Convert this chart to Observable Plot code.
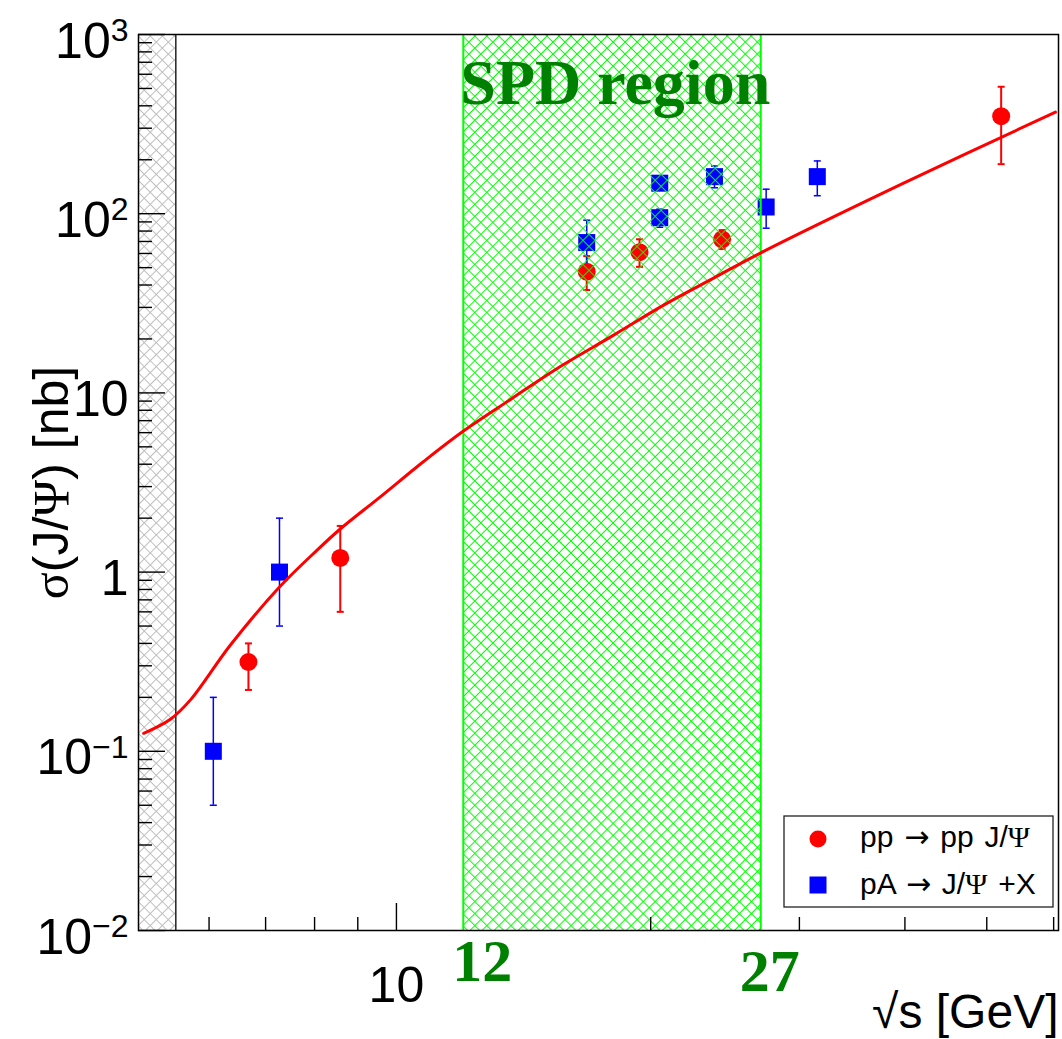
<!DOCTYPE html>
<html>
<head>
<meta charset="utf-8">
<script src="https://cdn.jsdelivr.net/npm/d3@7"></script>
<script src="https://cdn.jsdelivr.net/npm/@observablehq/plot@0.6"></script>
<style>
  body { margin: 0; background: #fff; }
  #chart { width: 1062px; height: 1039px; }
</style>
</head>
<body>
<div id="chart"></div>
<script>
// Exclusive J/psi production: pp -> pp J/psi (sqrt(s) in GeV, sigma in nb)
const ppEnergy = [6.68, 8.58, 16.8, 19.4, 24.3, 52.0];
const ppSigma  = [0.315, 1.2, 47.5, 61, 72, 350];
const ppLow    = [0.22, 0.60, 37.5, 50.5, 63.5, 189];
const ppHigh   = [0.40, 1.81, 58, 72, 81, 511];

// Inclusive J/psi production in pA collisions (per nucleon)
const pAEnergy = [6.07, 7.27, 16.8, 20.5, 20.5, 23.8, 27.4, 31.5];
const pASigma  = [0.1, 1.0, 69, 148, 95, 161, 109, 161];
const pALow    = [0.05, 0.5, 46, 137, 84, 139.5, 83, 126];
const pAHigh   = [0.2, 2.0, 92, 160, 106, 184.5, 137, 197];

// Model prediction
const curveEnergy = [5.02, 5.40, 5.70, 6.36, 7.27, 8.06, 8.58, 9.57, 10.76, 11.96, 13.65, 15.5, 18.08, 20.72, 23.74, 26.97, 39.8, 60.3];
const curveSigma  = [0.126, 0.151, 0.193, 0.392, 0.825, 1.33, 1.74, 2.63, 4.13, 6.05, 9.2, 13.7, 21.0, 30.9, 43.7, 60.3, 147.6, 369];

// Axis ranges and ticks
const xDomain = [4.95, 60.8];
const yDomain = [0.01, 1000];
const xMajorTicks = [10];
const xMinorTicks = [6, 7, 8, 9, 20, 30, 40, 50, 60];
const xTickLabels = ["10"];
const yMajorTicks = [0.01, 0.1, 1, 10, 100, 1000];
const yTickLabels = ["10^\u22122", "10^\u22121", "1", "10", "10^2", "10^3"];
const yMinorTicks = [0.01, 0.1, 1, 10, 100].flatMap(d => [2, 3, 4, 5, 6, 7, 8, 9].map(k => k * d));

// Shaded regions
const belowThreshold = [4.95, 5.48];
const spdRegion = [12, 27];
const spdTitle = "SPD region";
const spdEdgeLabels = ["12", "27"];

const xTitle = "\u221As [GeV]";
const yTitle = "\u03C3(J/\u03A8) [nb]";
const legendLabels = ["pp \u2192 pp J/\u03A8", "pA \u2192 J/\u03A8 +X"];

const W = 1062, H = 1039;
const mTop = 34, mRight = 4, mBottom = 109, mLeft = 138;
const frameW = W - mLeft - mRight;
const frameH = H - mTop - mBottom;

const pp = ppEnergy.map((e, i) => ({e, s: ppSigma[i], lo: ppLow[i], hi: ppHigh[i]}));
const pA = pAEnergy.map((e, i) => ({e, s: pASigma[i], lo: pALow[i], hi: pAHigh[i]}));
const curve = curveEnergy.map((e, i) => ({e, s: curveSigma[i]}));
const caps = rows => rows.flatMap(d => [{e: d.e, v: d.lo}, {e: d.e, v: d.hi}]);

// short horizontal bar used as error-bar cap
const capSymbol = {
  draw(ctx, size) {
    const r = Math.sqrt(size / Math.PI);
    ctx.moveTo(-r, 0);
    ctx.lineTo(r, 0);
  }
};

const sans = "'Liberation Sans', Arial, Helvetica, sans-serif";
const serif = "'Liberation Serif', 'Times New Roman', serif";

const svg = Plot.plot({
  width: W,
  height: H,
  marginTop: mTop, marginRight: mRight, marginBottom: mBottom, marginLeft: mLeft,
  style: {background: "white", fontFamily: sans, overflow: "visible"},
  x: {type: "log", domain: xDomain, axis: null},
  y: {type: "log", domain: yDomain, axis: null},
  marks: [
    // kinematically forbidden region
    Plot.rect([belowThreshold], {x1: d => d[0], x2: d => d[1], y1: yDomain[0], y2: yDomain[1], fill: "url(#hatch-gray)"}),
    Plot.ruleX([belowThreshold[1]], {stroke: "#222", strokeWidth: 1.5}),

    // error bars
    Plot.ruleX(pp, {x: "e", y1: "lo", y2: "hi", stroke: "#ff0000", strokeWidth: 2}),
    Plot.dot(caps(pp), {x: "e", y: "v", symbol: capSymbol, r: 3.5, stroke: "#ff0000", strokeWidth: 2, fill: "none"}),
    Plot.ruleX(pA, {x: "e", y1: "lo", y2: "hi", stroke: "#0000ff", strokeWidth: 1.5}),
    Plot.dot(caps(pA), {x: "e", y: "v", symbol: capSymbol, r: 3.5, stroke: "#0000ff", strokeWidth: 1.5, fill: "none"}),

    // markers
    Plot.dot(pp, {x: "e", y: "s", r: 9, fill: "#ff0000", stroke: "none"}),
    Plot.dot(pA, {x: "e", y: "s", symbol: "square", r: 9.6, fill: "#0000ff", stroke: "none"}),

    // SPD energy range
    Plot.rect([spdRegion], {x1: d => d[0], x2: d => d[1], y1: yDomain[0], y2: yDomain[1], fill: "url(#hatch-green)"}),
    Plot.ruleX(spdRegion, {stroke: "#00ff00", strokeWidth: 2}),

    // model curve
    Plot.line(curve, {x: "e", y: "s", stroke: "#ff0000", strokeWidth: 3, curve: "catmull-rom"}),

    // inward ticks
    Plot.ruleY(yMajorTicks, {insetRight: frameW - 27, stroke: "#000", strokeWidth: 1.4}),
    Plot.ruleY(yMinorTicks, {insetRight: frameW - 14, stroke: "#000", strokeWidth: 1.4}),
    Plot.ruleX(xMajorTicks, {insetTop: frameH - 27, stroke: "#000", strokeWidth: 1.4}),
    Plot.ruleX(xMinorTicks, {insetTop: frameH - 13, stroke: "#000", strokeWidth: 1.4}),
    Plot.frame({stroke: "#000", strokeWidth: 1.5}),

    // tick labels
    Plot.text(yMajorTicks, {y: d => d, text: (d, i) => yTickLabels[i], frameAnchor: "left", textAnchor: "end",
      lineAnchor: "middle", dx: -10, dy: 7, fontSize: 50, fill: "#000"}),
    Plot.text(xMajorTicks, {x: d => d, text: (d, i) => xTickLabels[i], frameAnchor: "bottom", textAnchor: "middle",
      lineAnchor: "bottom", dy: 71, fontSize: 50, fill: "#000"}),

    // axis titles
    Plot.text([xTitle], {text: d => d, frameAnchor: "bottom-right", textAnchor: "end", lineAnchor: "bottom",
      dy: 97, dx: 0, fontSize: 48, fill: "#000"}),
    Plot.text([yTitle], {text: d => d, frameAnchor: "left", textAnchor: "middle", lineAnchor: "bottom",
      rotate: -90, dx: -71, fontSize: 50, fill: "#000"}),

    // SPD annotations
    Plot.text([spdTitle], {x: spdRegion[0], text: d => d, frameAnchor: "top", textAnchor: "start", lineAnchor: "bottom",
      dx: -3, dy: 69, fontSize: 64, fontWeight: "bold", fontFamily: serif, fill: "#008000"}),
    Plot.text([spdEdgeLabels[0]], {x: spdRegion[0], text: d => d, frameAnchor: "bottom", textAnchor: "start", lineAnchor: "bottom",
      dx: -11, dy: 50, fontSize: 60, fontWeight: "bold", fontFamily: serif, fill: "#008000"}),
    Plot.text([spdEdgeLabels[1]], {x: spdRegion[1], text: d => d, frameAnchor: "bottom", textAnchor: "start", lineAnchor: "bottom",
      dx: -21, dy: 60, fontSize: 60, fontWeight: "bold", fontFamily: serif, fill: "#008000"})
  ]
});

const root = d3.select(svg);

// cross-hatch fill patterns: a square grid turned by 45 degrees
const defs = root.insert("defs", ":first-child");
function hatch(id, color, size, width) {
  const p = defs.append("pattern")
    .attr("id", id)
    .attr("patternUnits", "userSpaceOnUse")
    .attr("width", size)
    .attr("height", size)
    .attr("patternTransform", "rotate(45)");
  p.append("path")
    .attr("d", `M0,${size / 2}H${size}M${size / 2},0V${size}`)
    .attr("stroke", color)
    .attr("stroke-width", width)
    .attr("fill", "none");
}
hatch("hatch-gray", "#bdbdbd", 8.5, 1);
hatch("hatch-green", "#00ff00", 8.5, 1);

// exponents as raised, smaller digits
root.selectAll("text").filter(function() { return this.textContent.includes("^"); }).each(function() {
  const t = d3.select(this);
  const [base, exp] = t.text().split("^");
  t.text(base);
  t.append("tspan").attr("dy", "-0.52em").attr("font-size", 32).text(exp);
});

// Greek letters in a serif face, arrows from DejaVu
function styledRuns(parent, s) {
  (s.match(/[\u0370-\u03FF]+|[\u2190-\u21FF]+|[^\u0370-\u03FF\u2190-\u21FF]+/g) || []).forEach(r => {
    const ts = parent.append("tspan").text(r);
    if (/[\u0370-\u03FF]/.test(r)) ts.attr("font-family", serif);
    else if (/[\u2190-\u21FF]/.test(r)) ts.attr("font-family", "'DejaVu Sans', sans-serif");
  });
}
root.selectAll("text").filter(function() { return this.textContent === yTitle; }).each(function() {
  const t = d3.select(this);
  t.text("");
  styledRuns(t, yTitle);
});

// legend
const legend = root.append("g").attr("aria-label", "legend");
legend.append("rect")
  .attr("x", 784).attr("y", 816).attr("width", 269).attr("height", 91)
  .attr("fill", "#fff").attr("stroke", "#222").attr("stroke-width", 1.3);
legend.append("circle").attr("cx", 818).attr("cy", 839).attr("r", 8.5).attr("fill", "#ff0000");
legend.append("rect").attr("x", 809.5).attr("y", 876.5).attr("width", 17).attr("height", 17).attr("fill", "#0000ff");
[847, 894].forEach((y, i) => {
  const t = legend.append("text")
    .attr("x", 860).attr("y", y)
    .attr("text-anchor", "start")
    .attr("font-size", 30).attr("font-family", sans).attr("fill", "#000")
    .attr("word-spacing", 2.5);
  styledRuns(t, legendLabels[i]);
});

document.getElementById("chart").appendChild(svg);
</script>
</body>
</html>
